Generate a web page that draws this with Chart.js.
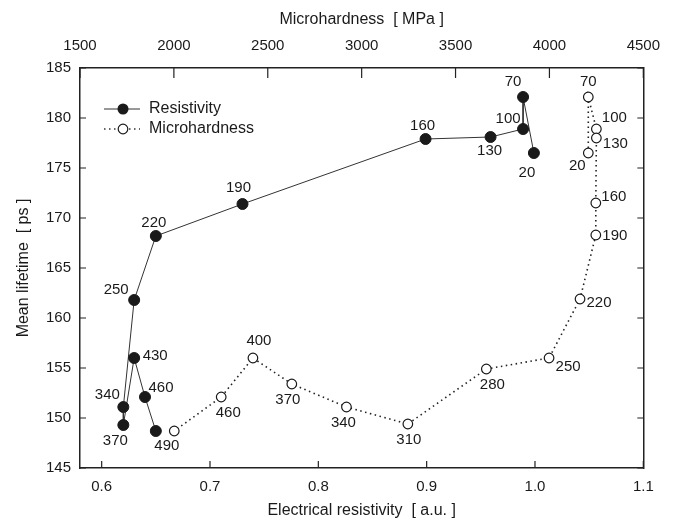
<!DOCTYPE html>
<html>
<head>
<meta charset="utf-8">
<script src="https://cdn.jsdelivr.net/npm/chart.js@4"></script>
<style>
  html, body { margin: 0; padding: 0; background: #fff; }
  #wrap { width: 673px; height: 528px; }
</style>
</head>
<body>
<div id="wrap"><canvas id="lifetimeChart" width="673" height="528"></canvas></div>
<script>
// Annealing temperatures used as point labels
const resTemps = [20, 70, 100, 130, 160, 190, 220, 250, 340, 370, 430, 460, 490];
const resValues = [0.999, 0.989, 0.989, 0.959, 0.899, 0.730, 0.650, 0.630, 0.620, 0.620, 0.630, 0.640, 0.650];
const resLifetime = [176.5, 182.1, 178.9, 178.1, 177.9, 171.4, 168.2, 161.8, 151.1, 149.3, 156.0, 152.1, 148.7];

const microTemps = [20, 70, 100, 130, 160, 190, 220, 250, 280, 310, 340, 370, 400, 460, 490];
const microValues = [4207, 4207, 4250, 4250, 4247, 4247, 4163, 3998, 3664, 3246, 2919, 2628, 2421, 2252, 2002];
const microLifetime = [176.5, 182.1, 178.9, 178.0, 171.5, 168.3, 161.9, 156.0, 154.9, 149.4, 151.1, 153.4, 156.0, 152.1, 148.7];

// tick labels
const resTicks = [0.6, 0.7, 0.8, 0.9, 1.0, 1.1];
const microTicks = [1500, 2000, 2500, 3000, 3500, 4000, 4500];
const lifetimeTicks = [145, 150, 155, 160, 165, 170, 175, 180, 185];

// where each temperature label sits relative to its marker (dx, dy)
const resLabelOffset = {
  20: [-7, 20], 70: [-10, -15], 100: [-15, -10], 130: [-1, 14], 160: [-3, -13],
  190: [-4, -16], 220: [-2, -13], 250: [-18, -10], 340: [-16, -12], 370: [-8, 16],
  430: [21, -2], 460: [16, -9], 490: [11, 15]
};
const microLabelOffset = {
  20: [-11, 13], 70: [0, -15], 100: [18, -11], 130: [19, 6], 160: [18, -6],
  190: [19, 1], 220: [19, 4], 250: [19, 9], 280: [6, 16], 310: [1, 16],
  340: [-3, 16], 370: [-4, 16], 400: [6, -17], 460: [7, 16]
};

const INK = '#1a1a1a';
Chart.defaults.font.family = '"Liberation Sans", Arial, sans-serif';
Chart.defaults.color = INK;

const toPoints = (xs, ys) => xs.map((x, i) => ({ x: x, y: ys[i] }));
const fixTicks = list => scale => { scale.ticks = list.map(v => ({ value: v })); };

// inward tick marks on all four sides
const tickMarks = {
  id: 'tickMarks',
  afterDraw(chart) {
    const { ctx, chartArea: a, scales } = chart;
    ctx.save();
    ctx.strokeStyle = '#222';
    ctx.lineWidth = 1.2;
    ctx.beginPath();
    scales.x.ticks.forEach(t => {
      const px = scales.x.getPixelForValue(t.value);
      ctx.moveTo(px, a.bottom); ctx.lineTo(px, a.bottom - 7);
    });
    scales.x2.ticks.forEach(t => {
      const px = scales.x2.getPixelForValue(t.value);
      ctx.moveTo(px, a.top); ctx.lineTo(px, a.top + 10);
    });
    scales.y.ticks.forEach(t => {
      const py = scales.y.getPixelForValue(t.value);
      ctx.moveTo(a.left, py); ctx.lineTo(a.left + 6, py);
    });
    scales.y2.ticks.forEach(t => {
      const py = scales.y2.getPixelForValue(t.value);
      ctx.moveTo(a.right, py); ctx.lineTo(a.right - 6, py);
    });
    ctx.stroke();
    ctx.restore();
  }
};

// temperature labels next to the markers
const tempLabels = {
  id: 'tempLabels',
  afterDatasetsDraw(chart) {
    const { ctx } = chart;
    ctx.save();
    ctx.font = '15px "Liberation Sans", Arial, sans-serif';
    ctx.fillStyle = INK;
    ctx.textAlign = 'center';
    ctx.textBaseline = 'middle';
    const sets = [[0, resTemps, resLabelOffset], [1, microTemps, microLabelOffset]];
    sets.forEach(([idx, temps, offsets]) => {
      chart.getDatasetMeta(idx).data.forEach((el, i) => {
        const off = offsets[temps[i]];
        if (!off) return;
        ctx.fillText(String(temps[i]), el.x + off[0], el.y + off[1]);
      });
    });
    ctx.restore();
  }
};

// legend drawn inside the plot, top left
const innerLegend = {
  id: 'innerLegend',
  afterDraw(chart) {
    const { ctx, chartArea: a } = chart;
    const x0 = a.left + 24, y0 = a.top + 41;
    ctx.save();
    ctx.strokeStyle = '#333';
    ctx.lineWidth = 1;
    ctx.beginPath(); ctx.moveTo(x0, y0); ctx.lineTo(x0 + 36, y0); ctx.stroke();
    ctx.fillStyle = INK;
    ctx.beginPath(); ctx.arc(x0 + 19, y0, 5.5, 0, Math.PI * 2); ctx.fill();

    const y1 = y0 + 20;
    ctx.setLineDash([1.5, 3.5]);
    ctx.lineWidth = 1.6;
    ctx.beginPath(); ctx.moveTo(x0, y1); ctx.lineTo(x0 + 36, y1); ctx.stroke();
    ctx.setLineDash([]);
    ctx.fillStyle = '#fff';
    ctx.strokeStyle = INK;
    ctx.lineWidth = 1.2;
    ctx.beginPath(); ctx.arc(x0 + 19, y1, 4.8, 0, Math.PI * 2); ctx.fill(); ctx.stroke();

    ctx.fillStyle = INK;
    ctx.font = '16px "Liberation Sans", Arial, sans-serif';
    ctx.textBaseline = 'middle';
    ctx.fillText('Resistivity', x0 + 45, y0);
    ctx.fillText('Microhardness', x0 + 45, y1);
    ctx.restore();
  }
};

const border = { display: true, color: '#222', width: 1.5 };
const noGrid = { display: false, drawTicks: false };
const titleFont = { size: 16 };
const tickFont = { size: 15 };

new Chart(document.getElementById('lifetimeChart'), {
  type: 'scatter',
  data: {
    datasets: [{
      label: 'Resistivity',
      data: toPoints(resValues, resLifetime),
      xAxisID: 'x',
      yAxisID: 'y',
      showLine: true,
      borderColor: '#333',
      borderWidth: 1,
      pointRadius: 5.5,
      pointBackgroundColor: INK,
      pointBorderColor: INK,
      pointBorderWidth: 1
    }, {
      label: 'Microhardness',
      data: toPoints(microValues, microLifetime),
      xAxisID: 'x2',
      yAxisID: 'y',
      showLine: true,
      borderColor: '#222',
      borderWidth: 1.6,
      borderDash: [1.5, 3.5],
      pointRadius: 4.8,
      pointBackgroundColor: '#fff',
      pointBorderColor: INK,
      pointBorderWidth: 1.2
    }]
  },
  options: {
    responsive: false,
    animation: false,
    layout: { padding: 0 },
    plugins: { legend: { display: false }, tooltip: { enabled: false } },
    scales: {
      x: {
        type: 'linear', position: 'bottom', min: 0.58, max: 1.1,
        afterBuildTicks: fixTicks(resTicks),
        afterFit: s => { s.height = 60; },
        grid: noGrid, border: border,
        ticks: { font: tickFont, padding: 10, maxRotation: 0, callback: v => v.toFixed(1) },
        title: { display: true, text: 'Electrical resistivity  [ a.u. ]', font: titleFont, padding: { top: 0, bottom: 8 } }
      },
      x2: {
        type: 'linear', position: 'top', min: 1500, max: 4500,
        afterBuildTicks: fixTicks(microTicks),
        afterFit: s => { s.height = 68; },
        grid: noGrid, border: border,
        ticks: { font: tickFont, padding: 13, maxRotation: 0, callback: v => String(v) },
        title: { display: true, text: 'Microhardness  [ MPa ]', font: titleFont, padding: { top: 10, bottom: 0 } }
      },
      y: {
        type: 'linear', position: 'left', min: 145, max: 185,
        afterBuildTicks: fixTicks(lifetimeTicks),
        afterFit: s => { s.width = 80; },
        grid: noGrid, border: border,
        ticks: { font: tickFont, padding: 9, callback: v => String(v) },
        title: { display: true, text: 'Mean lifetime  [ ps ]', font: titleFont, padding: { top: 14, bottom: 0 } }
      },
      y2: {
        type: 'linear', position: 'right', min: 145, max: 185,
        afterBuildTicks: fixTicks(lifetimeTicks),
        afterFit: s => { s.width = 18.5; },
        grid: noGrid, border: border,
        ticks: { display: false }
      }
    }
  },
  plugins: [tickMarks, tempLabels, innerLegend]
});
</script>
</body>
</html>
